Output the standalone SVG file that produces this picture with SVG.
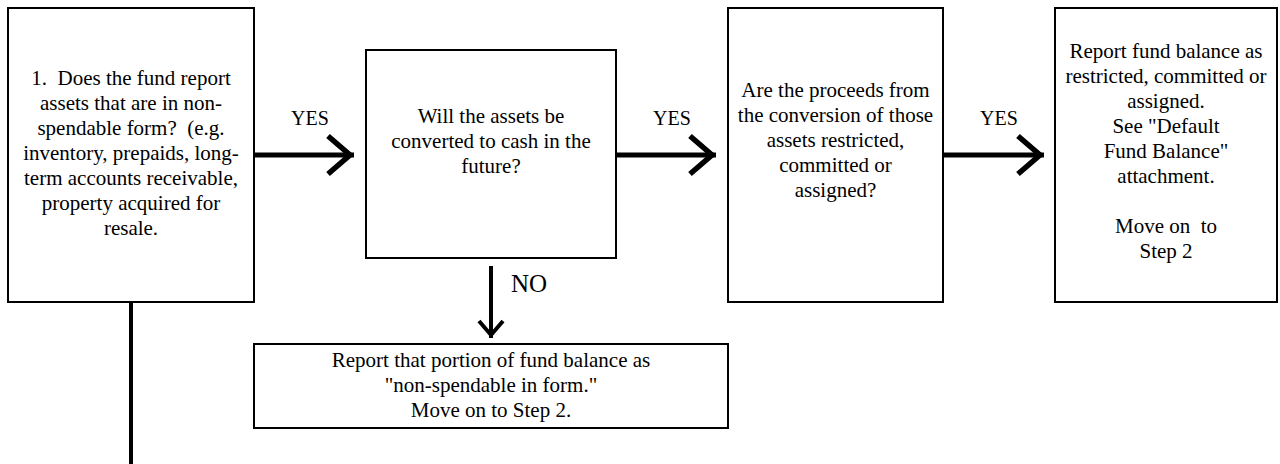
<svg xmlns="http://www.w3.org/2000/svg" width="1280" height="464" viewBox="0 0 1280 464">
<style>
.box{fill:#fff;stroke:#000;stroke-width:2}
.t{font-family:'Liberation Serif','Times New Roman',serif;font-size:21px;fill:#000;text-anchor:middle;white-space:pre}
.lbl{font-family:'Liberation Serif','Times New Roman',serif;font-size:20px;fill:#000;text-anchor:middle}
.no{font-family:'Liberation Serif','Times New Roman',serif;font-size:25px;fill:#000}
.conn{stroke:#000;fill:none}
</style>
<defs>
<marker id="chevH" markerUnits="userSpaceOnUse" markerWidth="44" markerHeight="50" viewBox="-40 -25 44 50" refX="0" refY="0" orient="auto" overflow="visible">
<path d="M-26,-19 L-4,0 L-26,19" fill="none" stroke="#000" stroke-width="5.5"/>
</marker>
<marker id="chevV" markerUnits="userSpaceOnUse" markerWidth="30" markerHeight="30" viewBox="-25 -15 30 30" refX="0" refY="0" orient="auto" overflow="visible">
<path d="M-17,-12 L-3,0 L-17,12" fill="none" stroke="#000" stroke-width="4"/>
</marker>
</defs>
<rect width="1280" height="464" fill="#fff"/>
<g id="connectors">
<line class="conn" x1="255" y1="155" x2="354" y2="155" stroke-width="5" marker-end="url(#chevH)"/>
<line class="conn" x1="617" y1="155" x2="716" y2="155" stroke-width="5" marker-end="url(#chevH)"/>
<line class="conn" x1="944" y1="155" x2="1044" y2="155" stroke-width="5" marker-end="url(#chevH)"/>
<line class="conn" x1="491" y1="266" x2="491" y2="338" stroke-width="4" marker-end="url(#chevV)"/>
<line class="conn" x1="131" y1="302" x2="131" y2="464" stroke-width="4"/>
<text class="lbl" x="310" y="125">YES</text>
<text class="lbl" x="672" y="125">YES</text>
<text class="lbl" x="999" y="125">YES</text>
<text class="no" x="511" y="292">NO</text>
</g>
<g id="node1">
<rect class="box" x="8" y="8" width="246" height="294"/>
<text class="t" x="131" y="85">1.  Does the fund report</text>
<text class="t" x="131" y="110">assets that are in non-</text>
<text class="t" x="131" y="135">spendable form?  (e.g.</text>
<text class="t" x="131" y="160">inventory, prepaids, long-</text>
<text class="t" x="131" y="185">term accounts receivable,</text>
<text class="t" x="131" y="210">property acquired for</text>
<text class="t" x="131" y="235">resale.</text>
</g>
<g id="node2">
<rect class="box" x="366" y="50" width="250" height="208"/>
<text class="t" x="491" y="123">Will the assets be</text>
<text class="t" x="491" y="148">converted to cash in the</text>
<text class="t" x="491" y="173">future?</text>
</g>
<g id="node3">
<rect class="box" x="728" y="8" width="215" height="294"/>
<text class="t" x="835.5" y="97">Are the proceeds from</text>
<text class="t" x="835.5" y="122">the conversion of those</text>
<text class="t" x="835.5" y="147">assets restricted,</text>
<text class="t" x="835.5" y="172">committed or</text>
<text class="t" x="835.5" y="197">assigned?</text>
</g>
<g id="node4">
<rect class="box" x="1055" y="8" width="222" height="294"/>
<text class="t" x="1166" y="58">Report fund balance as</text>
<text class="t" x="1166" y="83">restricted, committed or</text>
<text class="t" x="1166" y="108">assigned.</text>
<text class="t" x="1166" y="133">See "Default</text>
<text class="t" x="1166" y="158">Fund Balance"</text>
<text class="t" x="1166" y="183">attachment.</text>
<text class="t" x="1166" y="233">Move on  to</text>
<text class="t" x="1166" y="258">Step 2</text>
</g>
<g id="node5">
<rect class="box" x="254" y="344" width="474" height="84"/>
<text class="t" x="491" y="367">Report that portion of fund balance as</text>
<text class="t" x="491" y="392">"non-spendable in form."</text>
<text class="t" x="491" y="417">Move on to Step 2.</text>
</g>
</svg>
